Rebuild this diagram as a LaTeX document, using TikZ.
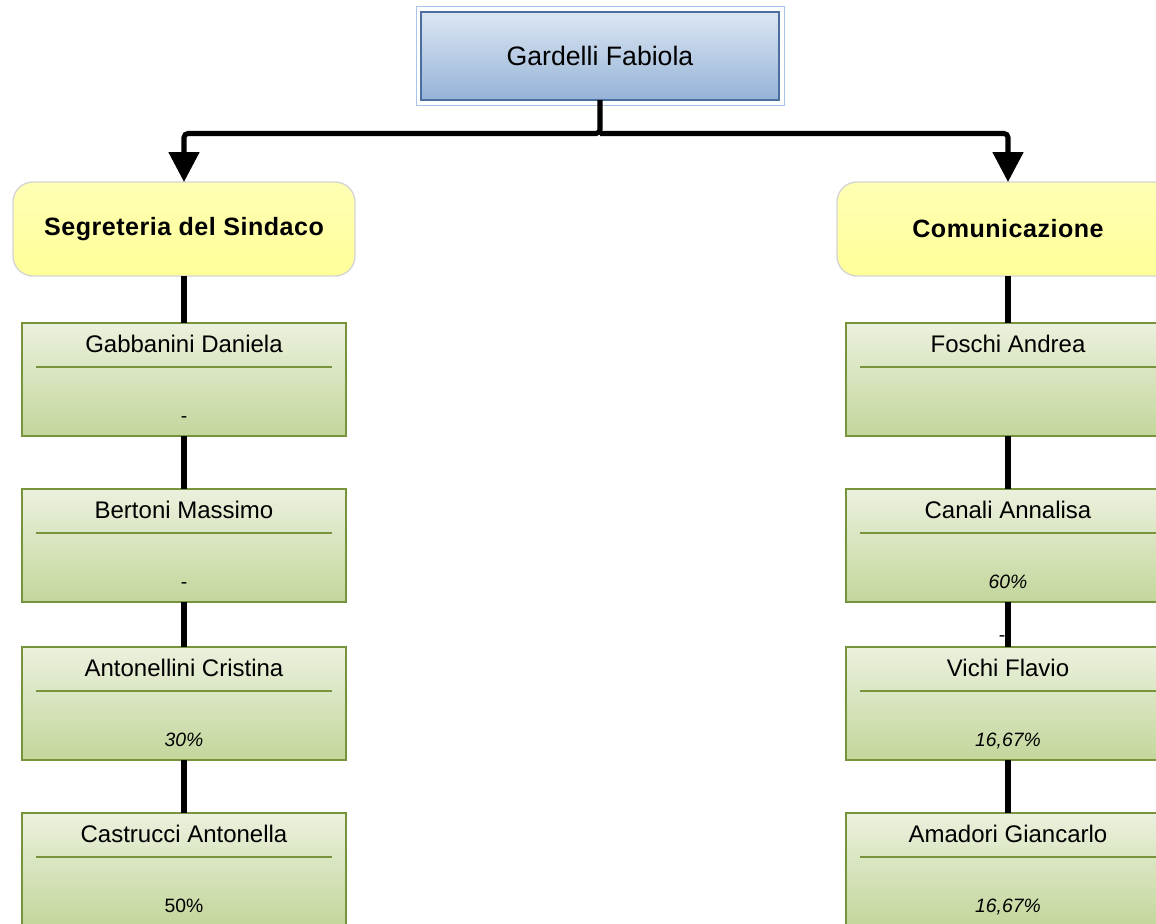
\documentclass[tikz,border=0pt]{standalone}
\usepackage{fontspec}
\setmainfont{Liberation Sans}
\usetikzlibrary{positioning,arrows.meta}

\definecolor{bosstop}{HTML}{DCE6F2}
\definecolor{bossbot}{HTML}{95B3D7}
\definecolor{bossline}{HTML}{4A6E9E}
\definecolor{bossframe}{HTML}{A9C4EB}
\definecolor{officetop}{HTML}{FFFFB4}
\definecolor{officebot}{HTML}{FFFF99}
\definecolor{officeline}{HTML}{D4D4D4}
\definecolor{stafftop}{HTML}{EBF1DE}
\definecolor{staffbot}{HTML}{C3D69B}
\definecolor{staffline}{HTML}{77933C}

% one box of the chart: name, placement, person, share
\newcommand{\staffbox}[4]{%
  \node[staff,#2] (#1) {};
  \node[person] (#1n) at ([yshift=-15.75pt]#1.north) {#3};
  \draw[divider] ([xshift=10.5pt,yshift=-33pt]#1.north west) -- ([xshift=-10.5pt,yshift=-33pt]#1.north east);
  \node[share] (#1v) at ([yshift=-69.75pt]#1.north) {#4};
}

\begin{document}
\begin{tikzpicture}[x=0.75pt,y=-0.75pt,
    boss/.style={draw=bossline,line width=1pt,top color=bosstop,bottom color=bossbot,
      minimum width=268.5pt,minimum height=66pt,outer sep=0pt,font=\fontsize{20}{24}\selectfont},
    bossframe/.style={draw=bossframe,line width=0.6pt,minimum width=276pt,minimum height=74.25pt,outer sep=0pt},
    office/.style={draw=officeline,line width=1pt,top color=officetop,bottom color=officebot,rounded corners=15pt,
      minimum width=256.5pt,minimum height=70.5pt,outer sep=0pt,
      font=\fontsize{18.8}{22}\selectfont\bfseries\addfontfeatures{LetterSpace=2}},
    staff/.style={draw=staffline,line width=1pt,top color=stafftop,bottom color=staffbot,
      minimum width=243pt,minimum height=84.75pt,outer sep=0pt,inner sep=0pt},
    person/.style={font=\fontsize{18}{21}\selectfont,inner sep=0pt},
    share/.style={font=\fontsize{14.5}{17}\selectfont,inner sep=0pt,text height=10.4pt,text depth=0pt},
    divider/.style={draw=staffline,line width=0.8pt},
    link/.style={line width=3.8pt},
    feed/.style={link,rounded corners=3pt,-{Triangle[width=22.5pt,length=22.5pt]}}]
  \useasboundingbox (0,0) rectangle (1156,924);

  \node[bossframe] (0f) at (600,55.5) {};
  \node[boss] (0) at (600,56) {Gardelli Fabiola};
  \node[office] (seg) at (184,229) {Segreteria del Sindaco};
  \node[office] (com) at (1008,229) {Comunicazione};

  % left column
  \staffbox{s1}{below=35.25pt of seg}{Gabbanini Daniela}{-}
  \staffbox{s2}{below=39.75pt of s1}{Bertoni Massimo}{-}
  \staffbox{s3}{below=33.75pt of s2}{Antonellini Cristina}{\itshape 30\%}
  \staffbox{s4}{below=39.75pt of s3}{Castrucci Antonella}{50\%}

  % right column
  \staffbox{c1}{below=35.25pt of com}{Foschi Andrea}{}
  \staffbox{c2}{below=39.75pt of c1}{Canali Annalisa}{\itshape 60\%}
  \staffbox{c3}{below=33.75pt of c2}{Vichi Flavio}{\itshape 16,67\%}
  \staffbox{c4}{below=39.75pt of c3}{Amadori Giancarlo}{\itshape 16,67\%}
  \node[share] (dash) at (1002,635) {-};

  \coordinate (fork) at (600,133.5);
  \draw[feed] (0.south) -- (fork) -| (seg.north);
  \draw[feed] (fork) -| (com.north);

  \draw[link] (seg) -- (s1);
  \draw[link] (s1) -- (s2);
  \draw[link] (s2) -- (s3);
  \draw[link] (s3) -- (s4);
  \draw[link] (com) -- (c1);
  \draw[link] (c1) -- (c2);
  \draw[link] (c2) -- (c3);
  \draw[link] (c3) -- (c4);
\end{tikzpicture}
\end{document}
